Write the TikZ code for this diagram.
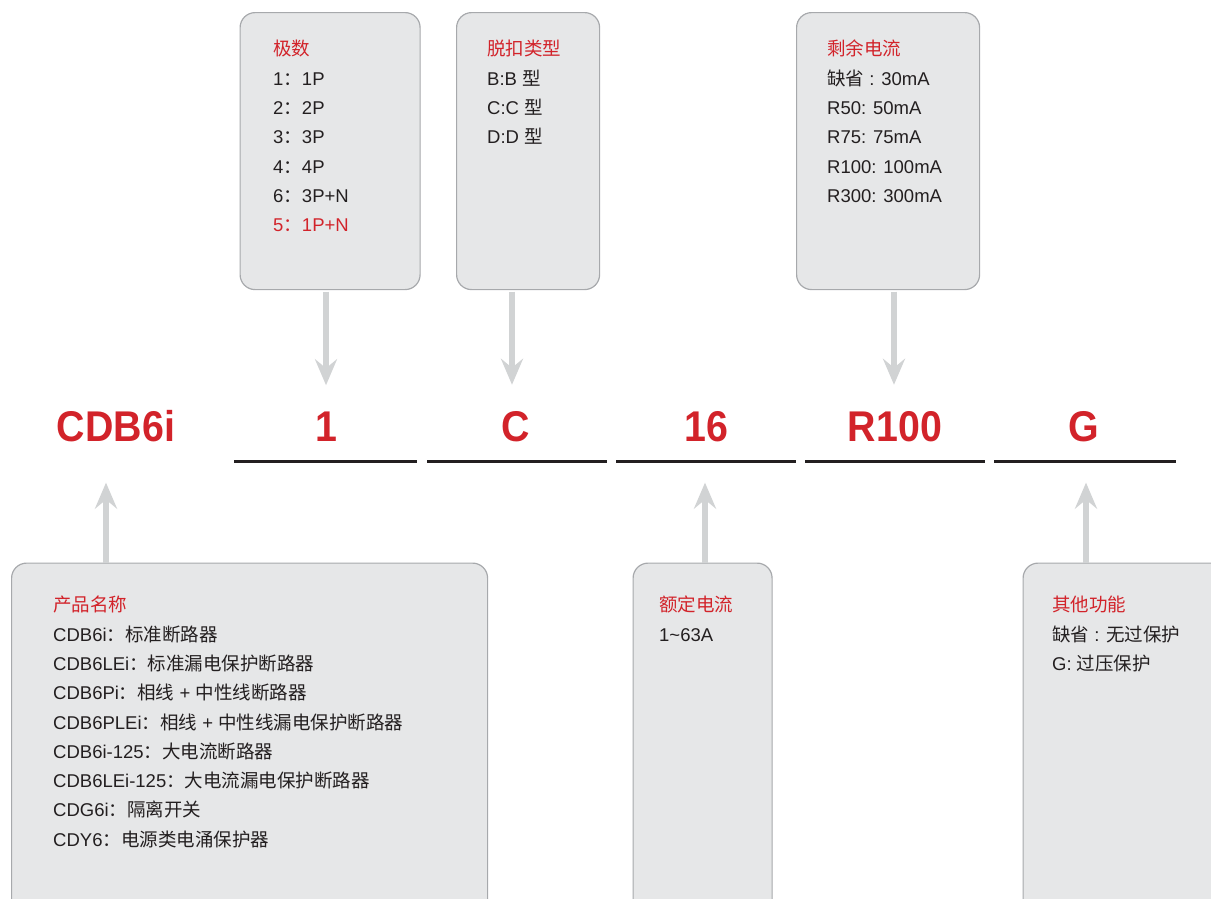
\documentclass[tikz,border=0pt]{standalone}
\usepackage{fontspec}
\usepackage{graphicx}
\setmainfont{Liberation Sans}
\newfontfamily\cjk{Noto Sans CJK SC}
\usetikzlibrary{arrows.meta}
\definecolor{boxfill}{HTML}{E6E7E8}
\definecolor{boxline}{HTML}{A7A9AC}
\definecolor{myred}{HTML}{D2232A}
\definecolor{ink}{HTML}{231F20}
\definecolor{arrowgray}{HTML}{D1D3D4}
\newcommand\zh[1]{{\cjk #1}}
\newcommand\vtxt[1]{\scalebox{0.915}[1]{#1}}
\begin{document}
\begin{tikzpicture}[x=1pt,y=-1pt,
 infobox/.style={draw=boxline, fill=boxfill, line width=1.2pt, rounded corners=15pt, anchor=north west, inner sep=0pt},
 txt/.style={anchor=base west, inner sep=0pt, font=\fontsize{18.5}{22}\selectfont, text=ink},
 ttl/.style={txt, text=myred},
 val/.style={anchor=base, inner sep=0pt, font=\fontsize{43}{48}\bfseries\selectfont, text=myred},
 uline/.style={draw=ink, line width=3.4pt},
 conn/.style={draw=arrowgray, line width=6pt, -{Stealth[length=26pt, width=22pt, inset=9pt]}},
]
\useasboundingbox (0,0) rectangle (1211,898);
\clip (0,0) rectangle (1211,898);

% boxes
\node[infobox, minimum width=180pt, minimum height=277pt] (b1) at (239.5,12) {};
\node[infobox, minimum width=143pt, minimum height=277pt] (b2) at (456,12) {};
\node[infobox, minimum width=183pt, minimum height=277pt] (b3) at (796,12) {};
\node[infobox, minimum width=476pt, minimum height=360pt] (b4) at (11,562.5) {};
\node[infobox, minimum width=139pt, minimum height=360pt] (b5) at (632.5,562.5) {};
\node[infobox, minimum width=220pt, minimum height=360pt] (b6) at (1022.5,562.5) {};

% values
\node[val] (v0) at (116,441) {\vtxt{CDB6i}};
\node[val] (v1) at (326,441) {\vtxt{1}};
\node[val] (v2) at (516,441) {\vtxt{C}};
\node[val] (v3) at (706,441) {\vtxt{16}};
\node[val] (v4) at (895,441) {\vtxt{R100}};
\node[val] (v5) at (1084,441) {\vtxt{G}};

% underlines
\draw[uline] (234,461.5) -- (417,461.5);
\draw[uline] (427,461.5) -- (607,461.5);
\draw[uline] (616,461.5) -- (796,461.5);
\draw[uline] (805,461.5) -- (985,461.5);
\draw[uline] (994,461.5) -- (1176,461.5);

% arrows
\draw[conn, shorten <=1.5pt, shorten >=26pt] (v1.north |- b1.south) -- (v1.north);
\draw[conn, shorten <=1.5pt, shorten >=26pt] ([xshift=-4pt]v2.north |- b2.south) -- ([xshift=-4pt]v2.north);
\draw[conn, shorten <=1.5pt, shorten >=26pt] ([xshift=-1pt]v4.north |- b3.south) -- ([xshift=-1pt]v4.north);
\draw[conn, shorten >=41pt] ([xshift=-10pt]v0.south |- b4.north) -- ([xshift=-10pt]v0.south);
\draw[conn, shorten >=41pt] ([xshift=-1pt]v3.south |- b5.north) -- ([xshift=-1pt]v3.south);
\draw[conn, shorten >=41pt] ([xshift=2pt]v5.south |- b6.north) -- ([xshift=2pt]v5.south);

% box 1
\node[ttl] (t1a) at (273,55.5) {\zh{极数}};
\node[txt] (t1b) at (273,85) {1\zh{：}1P};
\node[txt] (t1c) at (273,114.3) {2\zh{：}2P};
\node[txt] (t1d) at (273,143.6) {3\zh{：}3P};
\node[txt] (t1e) at (273,173) {4\zh{：}4P};
\node[txt] (t1f) at (273,202.2) {6\zh{：}3P+N};
\node[ttl] (t1g) at (273,231.5) {5\zh{：}1P+N};

% box 2
\node[ttl] (t2a) at (487,55.5) {\zh{脱扣类型}};
\node[txt] (t2b) at (487,85) {B:B \zh{型}};
\node[txt] (t2c) at (487,114.3) {C:C \zh{型}};
\node[txt] (t2d) at (487,143.6) {D:D \zh{型}};

% box 3
\node[ttl] (t3a) at (827,55.5) {\zh{剩余电流}};
\node[txt] (t3b) at (827,85) {\zh{缺省} : 30mA};
\node[txt] (t3c) at (827,114.3) {R50: 50mA};
\node[txt] (t3d) at (827,143.6) {R75: 75mA};
\node[txt] (t3e) at (827,173) {R100: 100mA};
\node[txt] (t3f) at (827,202.2) {R300: 300mA};

% box 4
\node[ttl] (t4a) at (53,611) {\zh{产品名称}};
\node[txt] (t4b) at (53,641) {CDB6i\zh{：标准断路器}};
\node[txt] (t4c) at (53,670.3) {CDB6LEi\zh{：标准漏电保护断路器}};
\node[txt] (t4d) at (53,699.6) {CDB6Pi\zh{：相线} + \zh{中性线断路器}};
\node[txt] (t4e) at (53,729) {CDB6PLEi\zh{：相线} + \zh{中性线漏电保护断路器}};
\node[txt] (t4f) at (53,758.2) {CDB6i-125\zh{：大电流断路器}};
\node[txt] (t4g) at (53,787.5) {CDB6LEi-125\zh{：大电流漏电保护断路器}};
\node[txt] (t4h) at (53,816.8) {CDG6i\zh{：隔离开关}};
\node[txt] (t4i) at (53,846) {CDY6\zh{：电源类电涌保护器}};

% box 5
\node[ttl] (t5a) at (659,611) {\zh{额定电流}};
\node[txt] (t5b) at (659,641) {1\textasciitilde63A};

% box 6
\node[ttl] (t6a) at (1052,611) {\zh{其他功能}};
\node[txt] (t6b) at (1052,641) {\zh{缺省} : \zh{无过保护}};
\node[txt] (t6c) at (1052,670.3) {G: \zh{过压保护}};
\end{tikzpicture}
\end{document}
